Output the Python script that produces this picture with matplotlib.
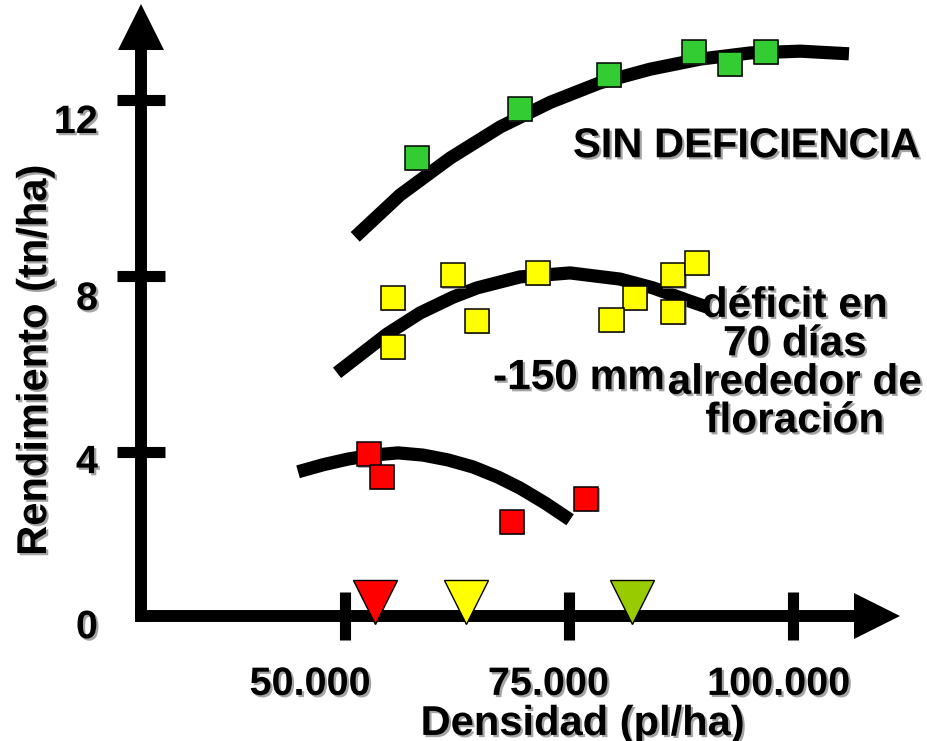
import matplotlib
matplotlib.use("Agg")
import matplotlib.pyplot as plt
import matplotlib.patheffects as pe

plt.rcParams["font.family"] = ["Liberation Sans", "DejaVu Sans"]
plt.rcParams["font.weight"] = "bold"

# data (density in pl/ha, yield in tn/ha)
green_x = [58000, 69500, 79400, 88900, 92900, 96900]
green_y = [10.68, 11.80, 12.57, 13.09, 12.82, 13.09]
yellow_x = [55300, 55300, 62000, 64700, 71500, 82300, 79700, 86600, 86600, 89200]
yellow_y = [7.50, 6.39, 8.02, 6.98, 8.07, 7.50, 7.00, 8.02, 7.18, 8.30]
red_x = [52600, 54100, 68600, 76900]
red_y = [3.95, 3.43, 2.41, 2.93]

# trend curves as drawn
green_curve_x = [51100, 56100, 61700, 67300, 72900, 78400, 84000, 89600, 95200, 100800, 106200]
green_curve_y = [8.89, 9.84, 10.68, 11.39, 11.95, 12.39, 12.70, 12.93, 13.07, 13.11, 13.05]
yellow_curve_x = [49070, 54650, 58340, 62020, 64700, 69500, 75080, 80660, 84340, 88130, 90700]
yellow_curve_y = [5.80, 6.68, 7.16, 7.52, 7.73, 7.98, 8.07, 7.93, 7.73, 7.45, 7.27]
red_curve_x = [44720, 47510, 50300, 53090, 55880, 58670, 61460, 64250, 67040, 69500, 72290, 75080]
red_curve_y = [3.55, 3.71, 3.84, 3.93, 3.98, 3.93, 3.82, 3.66, 3.43, 3.18, 2.84, 2.46]

# optimum density markers
opt_x = [53300, 63500, 82000]
opt_colors = ["#FF0000", "#FFFF00", "#99CC00"]

x_ticks = [50000, 75000, 100000]
x_tick_labels = ["50.000", "75.000", "100.000"]
x_label_pos = [46100, 72700, 98400]
y_ticks = [4, 8, 12]
y_tick_labels = ["0", "4", "8", "12"]
y_label_pos = [-0.23, 3.52, 7.23, 11.25]

fig = plt.figure(figsize=(9.27, 7.41), dpi=100)
ax = fig.add_axes([0, 0, 1, 1])
ax.set_xlim(11460, 114910)
ax.set_ylim(-2.568, 14.273)
ax.axis("off")

shadow = [pe.withSimplePatchShadow(offset=(1.6, -1.6), shadow_rgbFace="#9a9a9a", alpha=0.9)]
sq_shadow = [pe.withSimplePatchShadow(offset=(1.0, -1.0), shadow_rgbFace="#888888", alpha=0.7)]

# axes drawn by hand: thick lines with triangle heads
axis_x = 27200
axis_y = 0.27
ax.plot([axis_x, axis_x], [axis_y - 0.14, 13.5], color="k", lw=8.6, solid_capstyle="butt", zorder=2)
ax.plot([axis_x - 700, 108000], [axis_y, axis_y], color="k", lw=8.6, solid_capstyle="butt", zorder=2)
ax.plot([axis_x], [13.65], marker="^", ms=32.5, color="k", mew=0, zorder=2)
ax.plot([109300], [axis_y], marker=">", ms=32.5, color="k", mew=0, zorder=2)

ax.plot([axis_x] * len(y_ticks), y_ticks, ls="none", marker="_", ms=34, mew=8, color="k", zorder=2)
ax.plot(x_ticks, [axis_y] * len(x_ticks), ls="none", marker="|", ms=34, mew=8, color="k", zorder=2)

for x, lab in zip(x_label_pos, x_tick_labels):
    ax.text(x, -1.52, lab, ha="center", va="baseline", fontsize=28.5,
            fontweight="bold", path_effects=shadow)
for y, lab in zip(y_label_pos, y_tick_labels):
    ax.text(22400, y, lab, ha="right", va="baseline", fontsize=28.5,
            fontweight="bold", path_effects=shadow)

ax.text(15370, 6.09, "Rendimiento (tn/ha)", rotation=90, ha="center", va="center",
        fontsize=30, fontweight="bold", path_effects=shadow)
ax.text(76500, -2.43, "Densidad (pl/ha)", ha="center", va="baseline",
        fontsize=30, fontweight="bold", path_effects=shadow)

# trend lines
for cx, cy in [(green_curve_x, green_curve_y), (yellow_curve_x, yellow_curve_y),
               (red_curve_x, red_curve_y)]:
    ax.plot(cx, cy, color="k", lw=9.5, solid_capstyle="butt", solid_joinstyle="round", zorder=3)

# observations
for xs, ys, c in [(green_x, green_y, "#33CC33"), (yellow_x, yellow_y, "#FFFF00"),
                  (red_x, red_y, "#FF0000")]:
    ax.plot(xs, ys, ls="none", marker="s", ms=17.3, mfc=c, mec="k", mew=1.1,
            zorder=4, path_effects=sq_shadow)

for x, c in zip(opt_x, opt_colors):
    ax.plot([x], [0.59], marker="v", ms=32, mfc=c, mec="k", mew=1.0, zorder=5)

ax.text(94720, 10.70, "SIN DEFICIENCIA", ha="center", va="baseline", fontsize=30,
        fontweight="bold", path_effects=shadow, zorder=6)
# multi-line text: baseline refers to the last line here
ax.text(100170, 4.45, "déficit en\n70 días\nalrededor de\nfloración", ha="center",
        va="baseline", multialignment="center", fontsize=30.5, fontweight="bold",
        linespacing=0.95, path_effects=shadow, zorder=6)
ax.text(66480, 5.43, "-150 mm", ha="left", va="baseline", fontsize=30.5,
        fontweight="bold", path_effects=shadow, zorder=6)

fig.savefig("out.png", dpi=100)
